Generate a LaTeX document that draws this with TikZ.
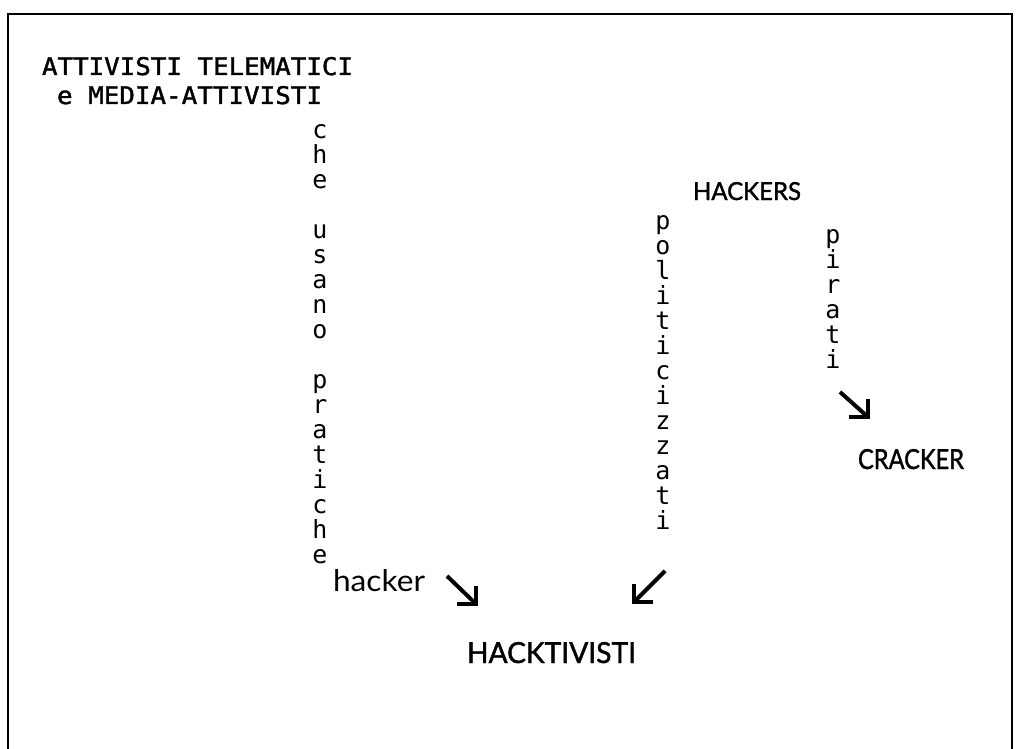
\documentclass[tikz,border=0pt]{standalone}
\usepackage{fontspec}
\usepackage{graphicx}
\newfontfamily\monofam{DejaVu Sans Mono}
\newfontfamily\monobold[FakeBold=1.5]{DejaVu Sans Mono}
\newfontfamily\latofam{Lato}
\newfontfamily\latobold[FakeBold=1.5]{Lato}
\tikzset{
  lbl/.style={inner sep=0pt, outer sep=0pt, anchor=base west},
  vletter/.style={inner sep=0pt, outer sep=0pt, anchor=base, font=\monofam\fontsize{25}{25}\selectfont},
  shaft/.style={line width=4pt, shorten >=2pt},
  barb/.style={line width=4pt, line join=miter},
  framestyle/.style={line width=2pt}
}
\begin{document}
\begin{tikzpicture}[x=1pt,y=-1pt]
\useasboundingbox (0,0) rectangle (1017,749);
\fill[white] (0,0) rectangle (1017,749);
\draw[framestyle] (8,749) -- (8,14) -- (1012,14) -- (1012,749);

\node[lbl] (t1) at (42,75) {\resizebox{311pt}{18pt}{\monobold ATTIVISTI TELEMATICI}};
\node[lbl] (t2) at (57,104) {\resizebox{265pt}{18pt}{\monobold e MEDIA-ATTIVISTI}};

\foreach \k/\ch in {0/c,1/h,2/e,4/u,5/s,6/a,7/n,8/o,10/p,11/r,12/a,13/t,14/i,15/c,16/h,17/e}
  \node[vletter] (a\k) at (320,{138.5+25*\k}) {\ch};
\foreach \k/\ch in {0/p,1/o,2/l,3/i,4/t,5/i,6/c,7/i,8/z,9/z,10/a,11/t,12/i}
  \node[vletter] (b\k) at (663,{229.5+25*\k}) {\ch};
\foreach \k/\ch in {0/p,1/i,2/r,3/a,4/t,5/i}
  \node[vletter] (c\k) at (833,{243.5+25*\k}) {\ch};

\node[lbl] (hk) at (333,591) {\resizebox{92pt}{22pt}{\latofam hacker}};
\node[lbl] (hacktiv) at (467,663) {\resizebox{169pt}{21pt}{\latobold HACKTIVISTI}};
\node[lbl] (hackers) at (693,200) {\resizebox{108pt}{18pt}{\latobold HACKERS}};
\node[lbl] (cracker) at (858,469) {\resizebox{106pt}{20pt}{\latobold CRACKER}};

\coordinate (a1s) at (447,576); \coordinate (a1e) at (476,604);
\coordinate (a2s) at (665,571); \coordinate (a2e) at (634,602);
\coordinate (a3s) at (840,392); \coordinate (a3e) at (868,417);
\draw[shaft] (a1s) -- (a1e);
\draw[barb] (a1e) ++(-19,0) -- (a1e) -- ++(0,-18);
\draw[shaft] (a2s) -- (a2e);
\draw[barb] (a2e) ++(19,0) -- (a2e) -- ++(0,-18);
\draw[shaft] (a3s) -- (a3e);
\draw[barb] (a3e) ++(-19,0) -- (a3e) -- ++(0,-18);
\end{tikzpicture}
\end{document}
